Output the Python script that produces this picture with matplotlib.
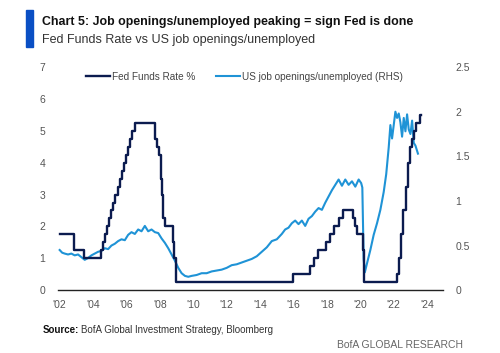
import matplotlib
matplotlib.use("Agg")
import matplotlib.pyplot as plt
from matplotlib.patches import Rectangle

plt.rcParams['font.family'] = ['Liberation Sans', 'DejaVu Sans']

NAVY, LBLUE, GREY, BAR = "#0b1b4f", "#1f93d6", "#555555", "#0a4fc4"

# Fed Funds Rate (upper bound) step changes: decimal year, level %
ff_dates = [2002.0, 2002.85, 2003.48, 2004.49, 2004.61, 2004.72, 2004.86, 2004.95,
            2005.09, 2005.22, 2005.34, 2005.49, 2005.61, 2005.72, 2005.84, 2005.95,
            2006.08, 2006.24, 2006.36, 2006.49, 2007.72, 2007.83, 2007.95, 2008.06,
            2008.1, 2008.21, 2008.33, 2008.77, 2008.83, 2008.96, 2015.96, 2016.96,
            2017.21, 2017.45, 2017.96, 2018.21, 2018.45, 2018.73, 2018.97, 2019.58,
            2019.71, 2019.83, 2020.17, 2020.21, 2022.21, 2022.34, 2022.46, 2022.57,
            2022.72, 2022.84, 2022.96, 2023.09, 2023.21, 2023.34, 2023.57, 2023.62]
ff_rate = [1.75, 1.25, 1.0, 1.25, 1.5, 1.75, 2.0, 2.25,
           2.5, 2.75, 3.0, 3.25, 3.5, 3.75, 4.0, 4.25,
           4.5, 4.75, 5.0, 5.25, 4.75, 4.5, 4.25, 3.5,
           3.0, 2.25, 2.0, 1.5, 1.0, 0.25, 0.5, 0.75,
           1.0, 1.25, 1.5, 1.75, 2.0, 2.25, 2.5, 2.25,
           2.0, 1.75, 1.25, 0.25, 0.5, 1.0, 1.75, 2.5,
           3.25, 4.0, 4.5, 4.75, 5.0, 5.25, 5.5, 5.5]

# US job openings / unemployed (RHS)
jo_dates = [2002.0, 2002.15, 2002.3, 2002.5, 2002.7, 2002.9, 2003.1, 2003.3, 2003.5, 2003.7,
            2003.9, 2004.1, 2004.3, 2004.5, 2004.7, 2004.9, 2005.1, 2005.3, 2005.5, 2005.7,
            2005.9, 2006.1, 2006.3, 2006.5, 2006.7, 2006.9, 2007.1, 2007.3, 2007.5, 2007.7,
            2007.9, 2008.1, 2008.3, 2008.5, 2008.7, 2008.9, 2009.1, 2009.3, 2009.5, 2009.7,
            2009.9, 2010.2, 2010.5, 2010.8, 2011.1, 2011.4, 2011.7, 2012.0, 2012.3, 2012.6,
            2012.9, 2013.2, 2013.5, 2013.8, 2014.1, 2014.4, 2014.7, 2015.0, 2015.3, 2015.5,
            2015.7, 2015.9, 2016.1, 2016.3, 2016.5, 2016.7, 2016.9, 2017.1, 2017.3, 2017.5,
            2017.7, 2017.9, 2018.1, 2018.3, 2018.5, 2018.7, 2018.9, 2019.1, 2019.3, 2019.5,
            2019.7, 2019.9, 2020.05, 2020.12, 2020.2, 2020.27, 2020.4, 2020.6, 2020.8, 2021.0,
            2021.2, 2021.4, 2021.55, 2021.7, 2021.8, 2021.9, 2022.0, 2022.1, 2022.2, 2022.3,
            2022.4, 2022.5, 2022.6, 2022.7, 2022.8, 2022.9, 2023.0, 2023.1, 2023.2, 2023.3,
            2023.45]
jo_ratio = [0.45, 0.42, 0.41, 0.40, 0.41, 0.39, 0.40, 0.37, 0.34, 0.36,
            0.39, 0.41, 0.43, 0.44, 0.47, 0.46, 0.50, 0.52, 0.55, 0.57,
            0.56, 0.62, 0.65, 0.63, 0.68, 0.66, 0.72, 0.66, 0.68, 0.65,
            0.64, 0.58, 0.53, 0.47, 0.40, 0.33, 0.25, 0.19, 0.16, 0.15,
            0.16, 0.17, 0.19, 0.19, 0.21, 0.22, 0.23, 0.25, 0.28, 0.29,
            0.31, 0.33, 0.35, 0.38, 0.43, 0.48, 0.55, 0.57, 0.63, 0.68,
            0.70, 0.75, 0.78, 0.74, 0.78, 0.72, 0.80, 0.83, 0.88, 0.92,
            0.90, 0.98, 1.05, 1.12, 1.18, 1.24, 1.17, 1.24, 1.18, 1.22,
            1.16, 1.24, 1.20, 1.15, 0.35, 0.20, 0.30, 0.45, 0.62, 0.75,
            0.90, 1.10, 1.30, 1.60, 1.85, 1.70, 1.85, 2.00, 1.93, 1.98,
            1.88, 1.72, 1.93, 1.78, 1.97, 1.80, 1.75, 1.90, 1.65, 1.62,
            1.53]

xticks = list(range(2002, 2025, 2))
xlabels = ["'%02d" % (y % 100) for y in xticks]

fig = plt.figure(figsize=(5.0, 3.53), dpi=100)
ax = fig.add_axes([0.116, 0.178, 0.77, 0.632])
ax2 = ax.twinx()

ax.step(ff_dates, ff_rate, where="post", color=NAVY, lw=1.7, label="Fed Funds Rate %", zorder=3)
ax2.plot(jo_dates, jo_ratio, color=LBLUE, lw=1.5, label="US job openings/unemployed (RHS)")
ax.set_zorder(ax2.get_zorder() + 1); ax.patch.set_visible(False)

ax.set_xlim(2001.9, 2024.95)
ax.set_ylim(0, 7); ax2.set_ylim(0, 2.5)
ax.set_yticks(range(0, 8)); ax2.set_yticks([0, 0.5, 1, 1.5, 2, 2.5])
ax2.set_yticklabels(["0", "0.5", "1", "1.5", "2", "2.5"])
ax.set_xticks(xticks); ax.set_xticklabels(xlabels)
for a in (ax, ax2):
    for s in a.spines.values(): s.set_visible(False)
    a.tick_params(length=0, labelsize=7.5, labelcolor=GREY, pad=9)
ax.tick_params(axis="x", pad=7)
ax.spines["bottom"].set_visible(True); ax.spines["bottom"].set_color("#222222"); ax.spines["bottom"].set_linewidth(1.0)

h1, l1 = ax.get_legend_handles_labels(); h2, l2 = ax2.get_legend_handles_labels()
fig.legend(h1 + h2, l1 + l2, loc="center left", bbox_to_anchor=(0.172, 0.782), ncol=2, frameon=False,
           fontsize=7.2, handlelength=2.4, handletextpad=0.25, columnspacing=2.0,
           borderpad=0, borderaxespad=0, labelcolor="#444444")

fig.patches.append(Rectangle((0.052, 0.867), 0.014, 0.105, transform=fig.transFigure, color=BAR))
fig.text(0.084, 0.938, "Chart 5: Job openings/unemployed peaking = sign Fed is done",
         fontsize=8.9, weight="bold", color="#111111", va="center")
fig.text(0.084, 0.887, "Fed Funds Rate vs US job openings/unemployed", fontsize=9, color="#333333", va="center")
fig.text(0.086, 0.065, "Source:", fontsize=7, weight="bold", color="#111111", va="center")
fig.text(0.162, 0.065, "BofA Global Investment Strategy, Bloomberg", fontsize=7, color="#333333", va="center")
fig.text(0.926, 0.023, "BofA GLOBAL RESEARCH", fontsize=7.5, color="#666666", va="center", ha="right")

fig.savefig("out.png", dpi=100)
